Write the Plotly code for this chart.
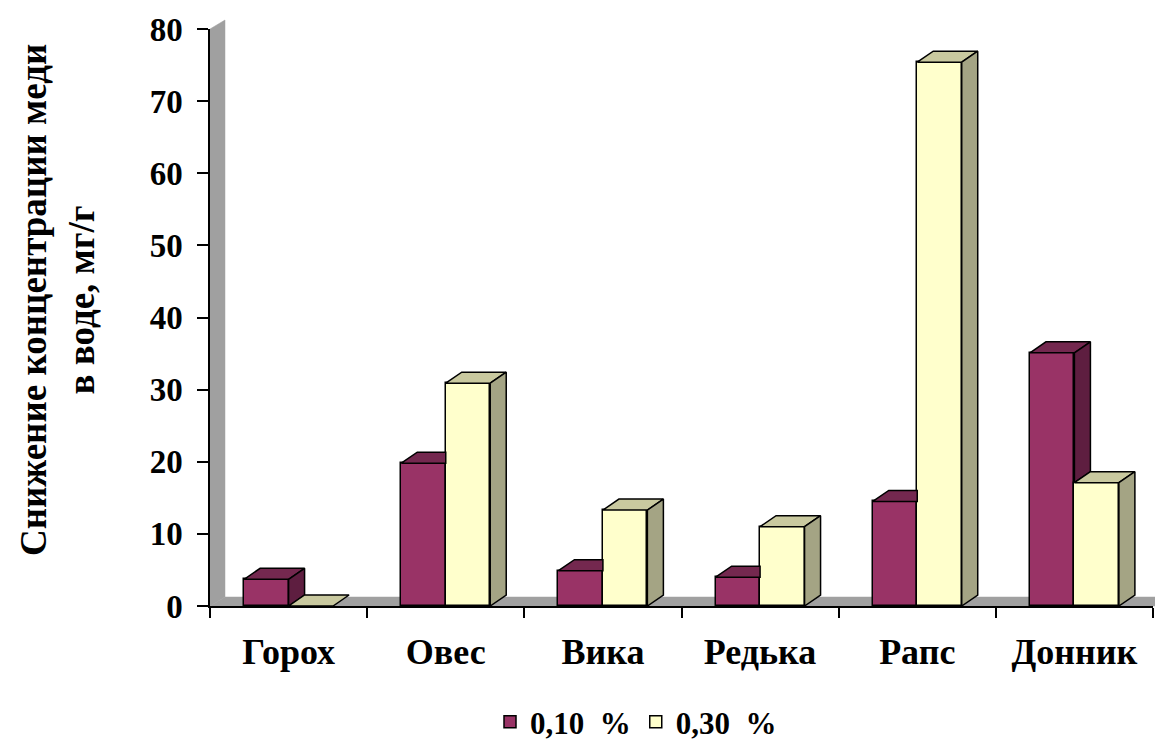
import plotly.graph_objects as go

# Data
categories = ["Горох", "Овес", "Вика", "Редька", "Рапс", "Донник"]
series_names = ["0,10\u00a0\u00a0%", "0,30\u00a0\u00a0%"]
conc_010 = [3.7, 19.8, 4.9, 4.0, 14.5, 35.1]
conc_030 = [0.0, 30.9, 13.3, 11.0, 75.4, 17.1]
y_ticks = [0, 10, 20, 30, 40, 50, 60, 70, 80]

# Styling
FONT = "Liberation Serif"
W, H = 1155, 742
M_L, M_R, M_T, M_B = 210, 2, 29, 136
PLOT_W = W - M_L - M_R
PLOT_H = H - M_T - M_B
Y_MAX = 80
N = len(categories)

front = ["#993366", "#FFFFCC"]
top = ["#74284F", "#C9C99F"]
side = ["#5E1E40", "#A4A484"]

BAR_W = 0.283                       # width of one column in category units
DEPTH_X = 16 * N / PLOT_W           # 3D depth offset, horizontal (16 px)
DEPTH_Y = 11 * Y_MAX / PLOT_H       # 3D depth offset, vertical (11 px)

fig = go.Figure()

# Front faces of the columns
for k, (name, vals) in enumerate([(series_names[0], conc_010), (series_names[1], conc_030)]):
    fig.add_trace(go.Bar(
        x=list(range(N)), y=vals, name=name,
        width=BAR_W, offset=-BAR_W if k == 0 else 0,
        marker=dict(color=front[k], line=dict(color="black", width=1.5)),
        hoverinfo="skip",
    ))


def face(xs, ys, color):
    fig.add_trace(go.Scatter(
        x=xs + [xs[0]], y=ys + [ys[0]], mode="lines", fill="toself",
        fillcolor=color, line=dict(color="black", width=1.5),
        showlegend=False, hoverinfo="skip",
    ))


# Top and side faces of the columns
for i in range(N):
    vr, vy = conc_010[i], conc_030[i]
    x0, x1, x2 = i - BAR_W, i, i + BAR_W
    # first series: top face (cut where the second column stands in front)
    if vy > vr:
        face([x0, x1, x1, x0 + DEPTH_X], [vr, vr, vr + DEPTH_Y, vr + DEPTH_Y], top[0])
    else:
        face([x0, x1, x1 + DEPTH_X, x0 + DEPTH_X], [vr, vr, vr + DEPTH_Y, vr + DEPTH_Y], top[0])
        # visible part of its side face above the second column
        face([x1, x1 + DEPTH_X, x1 + DEPTH_X, x1],
             [vy, vy + DEPTH_Y, vr + DEPTH_Y, vr], side[0])
    # second series: top and side faces
    face([x1, x2, x2 + DEPTH_X, x1 + DEPTH_X], [vy, vy, vy + DEPTH_Y, vy + DEPTH_Y], top[1])
    if vy > 0:
        face([x2, x2 + DEPTH_X, x2 + DEPTH_X, x2], [vy, vy + DEPTH_Y, DEPTH_Y, 0], side[1])

# Wall and floor of the 3D plot area
px_x = 15 / PLOT_W
px_y = 9 / PLOT_H
fig.add_shape(type="path", xref="paper", yref="paper", layer="below",
              path=f"M 0 0 L 0 1 L {px_x} {1 + px_y} L {px_x} {px_y} Z",
              fillcolor="#A0A0A0", line=dict(color="#A0A0A0", width=0.5))
fig.add_shape(type="path", xref="paper", yref="paper", layer="below",
              path=f"M 0 0 L {px_x} {px_y} L 1.01 {px_y} L 1.01 0 Z",
              fillcolor="#A0A0A0", line=dict(color="#A0A0A0", width=0.5))

fig.add_annotation(
    text="Снижение концентрации меди<br>в воде, мг/г",
    xref="paper", yref="paper", x=(57 - M_L) / PLOT_W, y=(H - M_B - 300) / PLOT_H,
    xanchor="center", yanchor="middle", textangle=-90, showarrow=False,
    font=dict(family=FONT, size=37, color="black", weight="bold"),
)

fig.update_layout(
    width=W, height=H, autosize=False,
    margin=dict(l=M_L, r=M_R, t=M_T, b=M_B, autoexpand=False),
    plot_bgcolor="white", paper_bgcolor="white",
    barmode="overlay", bargap=0,
    font=dict(family=FONT, color="black", weight="bold"),
    showlegend=True,
    legend=dict(orientation="h", x=(636 - M_L) / PLOT_W, xanchor="center",
                y=-116 / PLOT_H, yanchor="middle",
                font=dict(family=FONT, size=31, color="black", weight="bold"),
                itemwidth=30, traceorder="normal"),
)

fig.update_xaxes(
    range=[-0.5, N - 0.5], tickvals=list(range(N)), ticktext=categories,
    ticks="", showline=True, linecolor="black", linewidth=1.5,
    showgrid=False, zeroline=False, ticklabelstandoff=13, automargin=False,
    tickfont=dict(family=FONT, size=36, color="black", weight="bold"),
    minor=dict(tickvals=[k - 0.5 for k in range(N + 1)], ticks="outside",
               ticklen=10, tickwidth=1.5, tickcolor="black", showgrid=False),
)
fig.update_yaxes(
    range=[0, Y_MAX], tickvals=y_ticks, ticks="outside", ticklen=11,
    tickwidth=1.5, tickcolor="black", showline=True, linecolor="black",
    linewidth=1.5, showgrid=False, zeroline=False, ticklabelstandoff=8,
    automargin=False,
    tickfont=dict(family=FONT, size=33, color="black", weight="bold"),
)

fig.write_html("out.html")
